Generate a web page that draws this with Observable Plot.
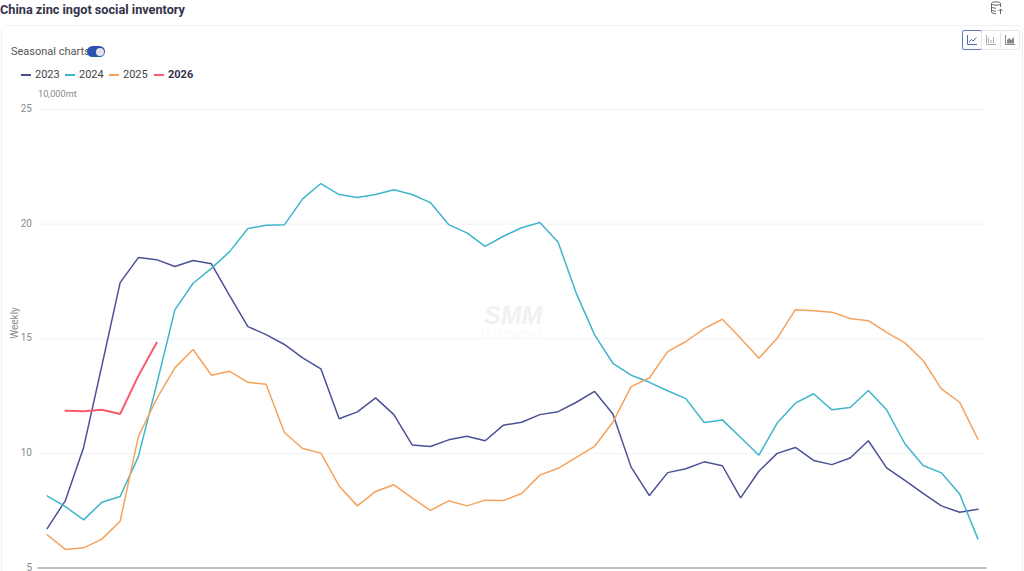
<!DOCTYPE html>
<html><head><meta charset="utf-8">
<script src="https://cdn.jsdelivr.net/npm/d3@7"></script>
<script src="https://cdn.jsdelivr.net/npm/@observablehq/plot@0.6"></script>
<style>
html,body{margin:0;padding:0;background:#fff;overflow:hidden}
body{width:1024px;height:571px;position:relative;font-family:Roboto,sans-serif}
.abs{position:absolute;white-space:nowrap}
#card{left:1px;top:25px;width:1022px;height:560px;border:1px solid #f0f0f2;border-radius:5px;box-sizing:border-box}
#title{left:0;top:0;font-size:12.7px;font-weight:700;color:#33334a;line-height:19px}
#seasonal{left:11px;top:44px;font-size:11px;color:#555;line-height:15px}
#toggle{left:87px;top:46px;width:18px;height:11px;border-radius:6px;background:#2a52b0}
#toggle i{position:absolute;right:1.5px;top:1.5px;width:8px;height:8px;border-radius:50%;background:#e4e4e4}
.lg{top:66.500px;font-size:11px;color:#444;line-height:15px}
.sw{position:absolute;top:74px;width:10px;height:1.6px}
.btn{top:29.500px;width:18px;height:18px;border:1px solid #e6e6e6;border-radius:2px;box-sizing:content-box}
.btn svg{display:block;margin:4px}
#chart{left:0;top:0}
</style></head><body>
<div class="abs" id="card"></div>
<div class="abs" id="chart"></div>
<div class="abs" id="title">China zinc ingot social inventory</div>
<div class="abs" id="seasonal">Seasonal charts</div>
<div class="abs" id="toggle"><i></i></div>
<div id="legend"></div>
<div class="abs btn" style="left:962px;border:1px solid #5b7cc4"><svg width="10" height="10" viewBox="0 0 10 10" fill="none" stroke="#4a6db5" stroke-width="1"><path d="M.5 0V9.5H10M2 7L4.500 4.500 6 6 9.500 2.500"/></svg></div>
<div class="abs btn" style="left:981px"><svg width="10" height="10" viewBox="0 0 10 10" fill="none" stroke="#aaa" stroke-width="1"><path d="M.5 0V9.5H10M2.500 8V3M5 8V5M7.500 8V2"/></svg></div>
<div class="abs btn" style="left:1000px"><svg width="10" height="10" viewBox="0 0 10 10" fill="#888" stroke="#888" stroke-width="1"><path d="M.5 0V9.500H10" fill="none"/><path d="M2 8.500V5L4 3 6 5 9 2V8.500Z" stroke="none"/></svg></div>
<svg class="abs" style="left:990px;top:1px" width="15" height="15" viewBox="0 0 15 15" fill="none" stroke="#666" stroke-width="1"><ellipse cx="6" cy="2.500" rx="4.500" ry="1.700"/><path d="M1.500 2.500V11C1.500 12 3.500 12.700 6 12.700M10.500 2.500V6M1.500 5.500C1.500 6.500 3.500 7.200 6 7.200M1.500 8.500C1.500 9.500 3.500 10.200 6 10.200M10.500 13V8M8.500 10L10.500 8 12.500 10"/></svg>
<script>
const years = ["2023","2024","2025","2026"];
const colors = ["#4a5296","#3fb5cb","#f5a25d","#fb5a6b"];
const values2023 = [6.72,7.94,10.26,13.83,17.45,18.54,18.45,18.15,18.41,18.27,16.88,15.53,15.18,14.75,14.17,13.69,11.51,11.81,12.42,11.69,10.37,10.3,10.59,10.75,10.55,11.23,11.36,11.69,11.82,12.23,12.7,11.72,9.4,8.16,9.16,9.33,9.63,9.46,8.06,9.22,10.0,10.26,9.69,9.51,9.8,10.55,9.37,8.82,8.26,7.71,7.43,7.56];
const values2024 = [8.15,7.68,7.1,7.87,8.12,9.86,13.0,16.26,17.42,18.07,18.8,19.81,19.95,19.97,21.1,21.77,21.29,21.16,21.29,21.5,21.29,20.94,19.98,19.62,19.03,19.47,19.84,20.07,19.21,16.97,15.17,13.93,13.41,13.1,12.73,12.39,11.35,11.46,10.69,9.92,11.32,12.19,12.6,11.9,12.0,12.74,11.9,10.42,9.47,9.15,8.23,6.27];
const values2025 = [6.45,5.81,5.88,6.26,7.04,10.73,12.38,13.73,14.53,13.41,13.58,13.1,13.02,10.91,10.21,10.01,8.58,7.71,8.34,8.63,8.06,7.51,7.93,7.71,7.96,7.94,8.25,9.05,9.35,9.83,10.31,11.36,12.91,13.29,14.44,14.88,15.44,15.85,15.02,14.15,15.02,16.27,16.22,16.16,15.88,15.79,15.28,14.82,14.05,12.81,12.23,10.62];
const values2026 = [null,11.86,11.84,11.9,11.72,13.38,14.83];
const yTicks = [5,10,15,20,25];
const gridTicks = [10,15,20,25];
const unitLabel = ["10,000mt"];
const axisName = ["Weekly"];
const watermark = ["SMM"];
const watermarkPhone = ["18753563933"];

const series = [values2023,values2024,values2025,values2026];
const rows = series.flatMap((vals,k)=>vals.map((v,i)=>({week:i,value:v,year:years[k]})).filter(d=>d.value!=null));

const chart = Plot.plot({
  width:1024,height:571,
  marginLeft:37.5,marginRight:37.5,marginTop:109,marginBottom:3.5,
  style:{fontFamily:'Roboto,sans-serif',background:"transparent",overflow:"visible"},
  x:{domain:[-0.5,51.5],axis:null},
  y:{domain:[5,25]},
  color:{domain:years,range:colors},
  marks:[
    Plot.ruleY(gridTicks,{stroke:"#f0f0f8",strokeWidth:1}),
    Plot.ruleY([5],{stroke:"#aaaaaa",strokeWidth:1.5}),
    Plot.axisY({ticks:yTicks,tickSize:0,tickPadding:6,label:null,tickFormat:d=>d,fontSize:10,color:"#8a8a8a",dy:-0.5}),
    Plot.text(watermark,{frameAnchor:"top-left",dx:446,dy:197,fontSize:25,fontWeight:900,fontStyle:"italic",fontFamily:"Liberation Sans",fill:"#f1f1f2",textAnchor:"start"}),
    Plot.text(watermarkPhone,{frameAnchor:"top-left",dx:442,dy:221,fontSize:10,fill:"#f8f8f9",textAnchor:"start"}),
    Plot.text(unitLabel,{frameAnchor:"top-left",dy:-19,fontSize:9.2,fill:"#8a8a8a",textAnchor:"start"}),
    Plot.text(axisName,{frameAnchor:"left",dx:-23,rotate:-90,fontSize:10,fill:"#8a8a8a"}),
    Plot.line(rows,{x:"week",y:"value",z:"year",stroke:"year",strokeWidth:d=>d.year==="2026"?2:1.5,strokeLinejoin:"miter",curve:"linear"})
  ]
});
document.getElementById("chart").appendChild(chart);

const legendX=[21,65,109,154];
const lg=document.getElementById("legend");
years.forEach((y,k)=>{
  const s=document.createElement("div");s.className="sw";s.style.left=legendX[k]+"px";s.style.background=colors[k];lg.appendChild(s);
  const t=document.createElement("div");t.className="abs lg";t.style.left=(legendX[k]+14)+"px";t.textContent=y;
  if(y==="2026"){t.style.fontWeight=700;t.style.color="#33334a"}
  lg.appendChild(t);
});
</script>
</body></html>
